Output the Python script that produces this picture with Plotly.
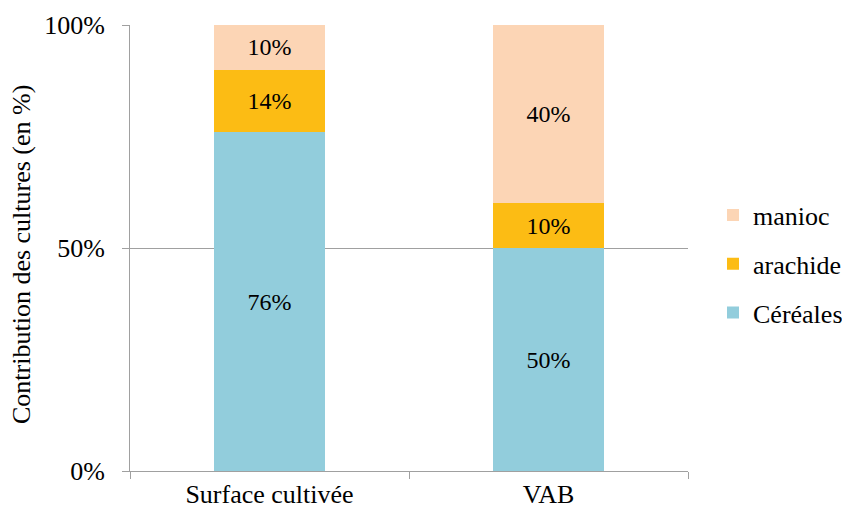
import plotly.graph_objects as go

categories = ["Surface cultivée", "VAB"]
cereales = [76, 50]
arachide = [14, 10]
manioc = [10, 40]
y_ticks = [0, 50, 100]
y_tick_labels = ["0%", "50%", "100%"]
y_title = "Contribution des cultures (en %)"

FONT = "Liberation Serif"
GRAY = "#A0A0A0"
FS = 26
FS_LBL = 24

L, R, T, B = 130, 154, 25, 43
W, H = 842, 514
PW = W - L - R
PH = H - T - B

fig = go.Figure()
series = [
    ("Céréales", cereales, "#92CDDC", 3),
    ("arachide", arachide, "#FCBC14", 2),
    ("manioc", manioc, "#FCD5B5", 1),
]
for name, vals, col, rank in series:
    fig.add_trace(go.Bar(
        x=categories, y=vals, name=name, legendgroup=name, legendrank=rank,
        marker=dict(color=col, line=dict(width=0)),
        text=[f"{v}%" for v in vals], textposition="inside",
        insidetextanchor="middle",
        textfont=dict(family=FONT, size=FS_LBL, color="black"),
        width=0.4,
    ))

fig.update_layout(
    barmode="stack",
    width=W, height=H,
    margin=dict(l=L, r=R, t=T, b=B, autoexpand=False),
    paper_bgcolor="white", plot_bgcolor="white",
    font=dict(family=FONT, size=FS, color="black"),
    showlegend=True,
    legend=dict(
        traceorder="grouped", tracegroupgap=12,
        x=(713 - L) / PW, xanchor="left",
        y=(H - B - 264) / PH, yanchor="middle",
        font=dict(family=FONT, size=FS, color="black"),
        itemwidth=30,
    ),
    uniformtext=dict(minsize=10, mode="show"),
    annotations=[dict(
        text=y_title, textangle=-90, xref="paper", yref="paper",
        x=(22 - L) / PW, y=(H - B - 255) / PH, xanchor="center", yanchor="middle",
        showarrow=False, font=dict(family=FONT, size=FS, color="black"),
    )],
)
fig.update_xaxes(
    automargin=False,
    showline=True, linecolor=GRAY, linewidth=1,
    ticks="outside", ticklen=7, tickcolor=GRAY, tickson="boundaries",
    tickfont=dict(family=FONT, size=FS, color="black"),
    showgrid=False,
)
fig.update_yaxes(
    automargin=False,
    range=[0, 100], tickvals=y_ticks, ticktext=y_tick_labels,
    showline=True, linecolor=GRAY, linewidth=1,
    ticks="outside", ticklen=7, tickcolor=GRAY,
    ticklabelstandoff=12,
    showgrid=True, gridcolor=GRAY, gridwidth=1,
    zeroline=False,
    tickfont=dict(family=FONT, size=FS, color="black"),
)

fig.write_html(
    "out.html",
    config={"displayModeBar": False},
    post_script="document.body.style.margin='0';document.body.style.overflow='hidden';",
)
